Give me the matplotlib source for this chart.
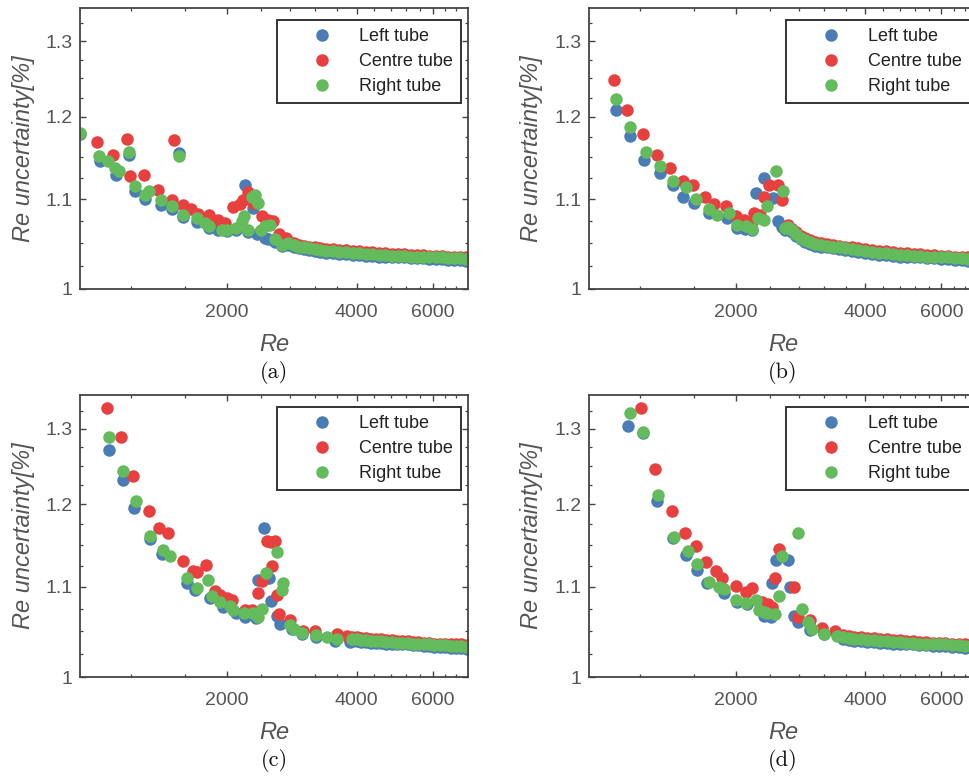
import matplotlib
matplotlib.use("Agg")
import matplotlib.pyplot as plt
from matplotlib.ticker import FixedLocator, FixedFormatter, NullFormatter

plt.rcParams['font.family'] = ['Liberation Sans', 'DejaVu Sans']

# ---- panel (a) ----
a_left_re = [915, 1018, 1108, 1188, 1230, 1294, 1411, 1492, 1555, 1589, 1706, 1817, 1912, 2000,
             2108, 2207, 2246, 2300, 2350, 2450, 2500, 2590, 2682]
a_left_unc = [1.179, 1.145, 1.129, 1.153, 1.109, 1.100, 1.093, 1.088, 1.155, 1.079, 1.074, 1.067, 1.064,
              1.063, 1.064, 1.117, 1.062, 1.090, 1.060, 1.056, 1.054, 1.051, 1.047]
a_centre_re = [1000, 1090, 1176, 1197, 1284, 1389, 1492, 1514, 1589, 1650, 1720, 1817, 1912, 1980,
               2072, 2150, 2188, 2240, 2300, 2411, 2500, 2560, 2650, 2750]
a_centre_unc = [1.168, 1.153, 1.172, 1.127, 1.129, 1.111, 1.099, 1.171, 1.093, 1.088, 1.083, 1.082,
                1.076, 1.072, 1.091, 1.094, 1.099, 1.108, 1.095, 1.080, 1.076, 1.075, 1.060, 1.055]
a_right_re = [915, 1013, 1060, 1100, 1125, 1188, 1230, 1294, 1320, 1411, 1492, 1555, 1589, 1706, 1780,
              1817, 1947, 2000, 2108, 2170, 2200, 2246, 2286, 2330, 2360, 2400, 2450, 2520, 2590, 2682]
a_right_unc = [1.180, 1.151, 1.145, 1.137, 1.133, 1.156, 1.115, 1.105, 1.110, 1.099, 1.092, 1.151, 1.082,
               1.078, 1.072, 1.069, 1.065, 1.065, 1.067, 1.075, 1.080, 1.065, 1.103, 1.105, 1.095, 1.065,
               1.069, 1.070, 1.054, 1.048]
a_tail_re = [2780, 2860, 2940, 3020, 3110, 3200, 3300, 3400, 3520, 3640, 3780, 3920, 4060, 4200, 4350,
             4500, 4660, 4820, 4990, 5160, 5340, 5520, 5710, 5900, 6100, 6310, 6520, 6740, 6960, 7180]
a_left_tail = [1.048, 1.046, 1.044, 1.043, 1.042, 1.041, 1.040, 1.039, 1.039, 1.038, 1.038, 1.037, 1.037,
               1.036, 1.036, 1.035, 1.035, 1.034, 1.034, 1.034, 1.033, 1.033, 1.033, 1.032, 1.032, 1.032,
               1.031, 1.031, 1.031, 1.030]
a_centre_tail = [1.052, 1.050, 1.048, 1.047, 1.046, 1.045, 1.044, 1.043, 1.043, 1.042, 1.042, 1.041, 1.041,
                 1.040, 1.040, 1.039, 1.039, 1.038, 1.038, 1.038, 1.037, 1.037, 1.037, 1.036, 1.036, 1.036,
                 1.035, 1.035, 1.035, 1.034]
a_right_tail = [1.050, 1.048, 1.046, 1.045, 1.044, 1.043, 1.042, 1.041, 1.041, 1.040, 1.040, 1.039, 1.039,
                1.038, 1.038, 1.037, 1.037, 1.036, 1.036, 1.036, 1.035, 1.035, 1.035, 1.034, 1.034, 1.034,
                1.033, 1.033, 1.033, 1.032]

# ---- panel (b) ----
b_left_re = [1058, 1140, 1230, 1336, 1430, 1508, 1600, 1736, 1913, 2017, 2100, 2180, 2232, 2324, 2445,
             2508, 2560, 2600]
b_left_unc = [1.209, 1.176, 1.147, 1.131, 1.116, 1.103, 1.095, 1.084, 1.078, 1.067, 1.066, 1.065, 1.107,
              1.125, 1.101, 1.075, 1.068, 1.064]
b_centre_re = [1043, 1120, 1218, 1315, 1412, 1508, 1590, 1697, 1780, 1900, 2000, 2090, 2180, 2210, 2284,
               2324, 2386, 2508, 2562]
b_centre_unc = [1.248, 1.209, 1.178, 1.152, 1.137, 1.121, 1.117, 1.103, 1.094, 1.092, 1.080, 1.076, 1.074,
                1.084, 1.082, 1.103, 1.117, 1.116, 1.099]
b_right_re = [1058, 1140, 1242, 1336, 1430, 1535, 1620, 1736, 1810, 1930, 2017, 2110, 2180, 2260, 2330,
              2360, 2480, 2570, 2600]
b_right_unc = [1.223, 1.187, 1.156, 1.139, 1.121, 1.114, 1.100, 1.088, 1.082, 1.084, 1.070, 1.069, 1.066,
               1.078, 1.076, 1.092, 1.133, 1.110, 1.067]
b_tail_re = [2640, 2700, 2760, 2830, 2900, 2980, 3060, 3150, 3250, 3360, 3470, 3590, 3720, 3850, 4000,
             4150, 4300, 4460, 4630, 4800, 4980, 5170, 5360, 5560, 5770, 5990, 6210, 6440, 6680, 6920]
b_left_tail = [1.066, 1.062, 1.058, 1.054, 1.051, 1.049, 1.047, 1.046, 1.045, 1.044, 1.043, 1.042, 1.041,
               1.040, 1.039, 1.038, 1.037, 1.037, 1.036, 1.035, 1.035, 1.034, 1.034, 1.033, 1.033, 1.032,
               1.032, 1.031, 1.031, 1.030]
b_centre_tail = [1.070, 1.066, 1.062, 1.058, 1.055, 1.053, 1.051, 1.050, 1.049, 1.048, 1.047, 1.046, 1.045,
                 1.044, 1.043, 1.042, 1.041, 1.041, 1.040, 1.039, 1.039, 1.038, 1.038, 1.037, 1.037, 1.036,
                 1.036, 1.035, 1.035, 1.034]
b_right_tail = [1.068, 1.064, 1.060, 1.056, 1.053, 1.051, 1.049, 1.048, 1.047, 1.046, 1.045, 1.044, 1.043,
                1.042, 1.041, 1.040, 1.039, 1.039, 1.038, 1.037, 1.037, 1.036, 1.036, 1.035, 1.035, 1.034,
                1.034, 1.033, 1.033, 1.032]

# ---- panel (c) ----
c_left_re = [1068, 1153, 1221, 1328, 1414, 1617, 1690, 1835, 1958, 2100, 2208, 2335, 2370, 2440, 2511,
             2529, 2611, 2658, 2829, 2990, 3230, 3560, 3857]
c_left_unc = [1.271, 1.231, 1.195, 1.157, 1.139, 1.105, 1.096, 1.087, 1.077, 1.070, 1.066, 1.064, 1.108,
              1.170, 1.110, 1.084, 1.067, 1.058, 1.052, 1.046, 1.043, 1.039, 1.038]
c_centre_re = [1059, 1136, 1212, 1322, 1397, 1466, 1589, 1668, 1705, 1788, 1883, 1930, 2000, 2054, 2205,
               2286, 2360, 2411, 2483, 2530, 2549, 2590, 2619, 2640, 2802, 3010, 3200, 3600, 3800]
c_centre_unc = [1.329, 1.288, 1.237, 1.192, 1.171, 1.164, 1.131, 1.118, 1.117, 1.126, 1.095, 1.090, 1.087,
                1.085, 1.073, 1.073, 1.093, 1.107, 1.155, 1.153, 1.124, 1.154, 1.090, 1.069, 1.062, 1.050,
                1.050, 1.046, 1.044]
c_right_re = [1068, 1153, 1231, 1328, 1426, 1478, 1617, 1707, 1815, 1850, 1930, 2036, 2072, 2190, 2306,
              2370, 2411, 2466, 2619, 2686, 2700, 2802, 2870, 2990, 3230, 3410, 3600]
c_right_unc = [1.288, 1.243, 1.204, 1.161, 1.144, 1.137, 1.110, 1.099, 1.108, 1.089, 1.083, 1.078, 1.073,
               1.070, 1.070, 1.065, 1.075, 1.116, 1.141, 1.096, 1.104, 1.056, 1.052, 1.048, 1.045, 1.043,
               1.041]
c_tail_re = [3900, 4000, 4100, 4200, 4320, 4440, 4560, 4690, 4820, 4960, 5100, 5250, 5400, 5560, 5720,
             5890, 6060, 6240, 6420, 6610, 6800, 7000, 7200]
c_left_tail = [1.039, 1.039, 1.038, 1.038, 1.037, 1.037, 1.037, 1.036, 1.036, 1.035, 1.035, 1.035, 1.034,
               1.034, 1.033, 1.033, 1.032, 1.032, 1.032, 1.031, 1.031, 1.031, 1.030]
c_centre_tail = [1.043, 1.043, 1.042, 1.042, 1.041, 1.041, 1.041, 1.040, 1.040, 1.039, 1.039, 1.039, 1.038,
                 1.038, 1.037, 1.037, 1.036, 1.036, 1.036, 1.035, 1.035, 1.035, 1.034]
c_right_tail = [1.041, 1.041, 1.040, 1.040, 1.039, 1.039, 1.039, 1.038, 1.038, 1.037, 1.037, 1.037, 1.036,
                1.036, 1.035, 1.035, 1.034, 1.034, 1.034, 1.033, 1.033, 1.033, 1.032]

# ---- panel (d) ----
d_left_re = [1125, 1222, 1313, 1429, 1533, 1626, 1720, 1884, 2018, 2130, 2324, 2420, 2435, 2478, 2640,
             2670, 2734, 2798, 2978, 3200]
d_left_unc = [1.304, 1.294, 1.204, 1.158, 1.138, 1.120, 1.105, 1.093, 1.083, 1.080, 1.067, 1.065, 1.105,
              1.132, 1.132, 1.100, 1.067, 1.060, 1.051, 1.046]
d_centre_re = [1208, 1301, 1422, 1526, 1618, 1711, 1799, 1864, 2007, 2110, 2185, 2306, 2380, 2430, 2470,
               2524, 2734, 2798, 2978, 3170, 3400]
d_centre_unc = [1.329, 1.246, 1.192, 1.164, 1.148, 1.129, 1.118, 1.110, 1.101, 1.094, 1.099, 1.083, 1.080,
                1.077, 1.110, 1.145, 1.100, 1.065, 1.062, 1.053, 1.050]
d_right_re = [1140, 1222, 1319, 1443, 1548, 1626, 1736, 1830, 1880, 2010, 2115, 2235, 2262, 2324, 2370,
              2470, 2524, 2560, 2784, 2848, 2950, 3004, 3200, 3430]
d_right_unc = [1.322, 1.296, 1.212, 1.160, 1.142, 1.127, 1.106, 1.100, 1.097, 1.085, 1.081, 1.085, 1.073,
               1.071, 1.070, 1.069, 1.089, 1.137, 1.164, 1.075, 1.060, 1.052, 1.047, 1.044]
d_tail_re = [3550, 3660, 3770, 3900, 4040, 4180, 4330, 4480, 4640, 4800, 4970, 5150, 5330, 5520, 5720,
             5920, 6130, 6350, 6580, 6810, 7050]
d_left_tail = [1.041, 1.040, 1.039, 1.039, 1.038, 1.038, 1.037, 1.037, 1.036, 1.036, 1.035, 1.035, 1.034,
               1.034, 1.033, 1.033, 1.033, 1.032, 1.032, 1.031, 1.031]
d_centre_tail = [1.045, 1.044, 1.043, 1.043, 1.042, 1.042, 1.041, 1.041, 1.040, 1.040, 1.039, 1.039, 1.038,
                 1.038, 1.037, 1.037, 1.037, 1.036, 1.036, 1.035, 1.035]
d_right_tail = [1.043, 1.042, 1.041, 1.041, 1.040, 1.040, 1.039, 1.039, 1.038, 1.038, 1.037, 1.037, 1.036,
                1.036, 1.035, 1.035, 1.035, 1.034, 1.034, 1.033, 1.033]

series_names = ['Left tube', 'Centre tube', 'Right tube']
series_colors = ['#4a7db5', '#e8403f', '#64bb5c']
panel_letters = ['(a)', '(b)', '(c)', '(d)']

x_major = [2000, 4000, 6000]
x_major_labels = ['2000', '4000', '6000']
x_minor = [1200, 1600, 2400, 2800, 3200, 3600, 4400, 4800, 5200, 5600, 6400, 6800]
y_major = [1.0, 1.1, 1.2, 1.3]
y_major_labels = ['1', '1.1', '1.2', '1.3']
y_minor = [1.025, 1.05, 1.075, 1.125, 1.15, 1.175, 1.225, 1.25, 1.275, 1.325]

panels = [
    [(a_left_re + a_tail_re, a_left_unc + a_left_tail),
     (a_centre_re + a_tail_re, a_centre_unc + a_centre_tail),
     (a_right_re + a_tail_re, a_right_unc + a_right_tail)],
    [(b_left_re + b_tail_re, b_left_unc + b_left_tail),
     (b_centre_re + b_tail_re, b_centre_unc + b_centre_tail),
     (b_right_re + b_tail_re, b_right_unc + b_right_tail)],
    [(c_left_re + c_tail_re, c_left_unc + c_left_tail),
     (c_centre_re + c_tail_re, c_centre_unc + c_centre_tail),
     (c_right_re + c_tail_re, c_right_unc + c_right_tail)],
    [(d_left_re + d_tail_re, d_left_unc + d_left_tail),
     (d_centre_re + d_tail_re, d_centre_unc + d_centre_tail),
     (d_right_re + d_tail_re, d_right_unc + d_right_tail)],
]

fig = plt.figure(figsize=(9.69, 7.80), dpi=100)
boxes = [[0.0826, 0.6295, 0.4004, 0.3603],
         [0.6078, 0.6295, 0.4004, 0.3603],
         [0.0826, 0.1320, 0.4004, 0.3615],
         [0.6078, 0.1320, 0.4004, 0.3615]]

for box, data, letter in zip(boxes, panels, panel_letters):
    ax = fig.add_axes(box)
    for (re, unc), name, col in zip(data, series_names, series_colors):
        ax.plot(re, unc, 'o', ms=9, color=col, mec='none', label=name)
    ax.set_xscale('log')
    ax.set_yscale('log')
    ax.set_xlim(915, 7250)
    ax.set_ylim(1.0, 1.347)
    ax.xaxis.set_major_locator(FixedLocator(x_major))
    ax.xaxis.set_major_formatter(FixedFormatter(x_major_labels))
    ax.xaxis.set_minor_locator(FixedLocator(x_minor))
    ax.xaxis.set_minor_formatter(NullFormatter())
    ax.yaxis.set_major_locator(FixedLocator(y_major))
    ax.yaxis.set_major_formatter(FixedFormatter(y_major_labels))
    ax.yaxis.set_minor_locator(FixedLocator(y_minor))
    ax.yaxis.set_minor_formatter(NullFormatter())
    ax.tick_params(which='both', direction='in', top=True, right=True, color='#444444',
                   labelcolor='#555555')
    ax.tick_params(which='major', length=4, width=1, labelsize=14)
    ax.tick_params(which='minor', length=2.5, width=0.9)
    ax.tick_params(axis='x', which='major', pad=11)
    ax.tick_params(axis='y', which='major', pad=5.5)
    for sp in ax.spines.values():
        sp.set_color('#444444')
        sp.set_linewidth(1.3)

    ax.text(0.5, -0.197, 'Re', transform=ax.transAxes, ha='center', va='center',
            fontsize=17, style='italic', color='#555555')
    ax.text(0.5, -0.297, letter, transform=ax.transAxes, ha='center', va='center',
            fontsize=16, family='cmr10', color='#111111')
    ax.text(-0.147, 0.5, 'Re uncertainty[%]', transform=ax.transAxes, ha='center', va='center',
            rotation=90, fontsize=17, style='italic', color='#555555')

    leg = ax.legend(loc='upper right', bbox_to_anchor=(0.982, 0.957), fontsize=13, frameon=True,
                    fancybox=False, edgecolor='#333333', framealpha=1, borderpad=0.44,
                    handlelength=4.1, handletextpad=0.0, labelspacing=0.45, borderaxespad=0)
    leg.get_frame().set_linewidth(1.4)
    for t in leg.get_texts():
        t.set_color('#222222')

fig.savefig('out.png', dpi=100)
